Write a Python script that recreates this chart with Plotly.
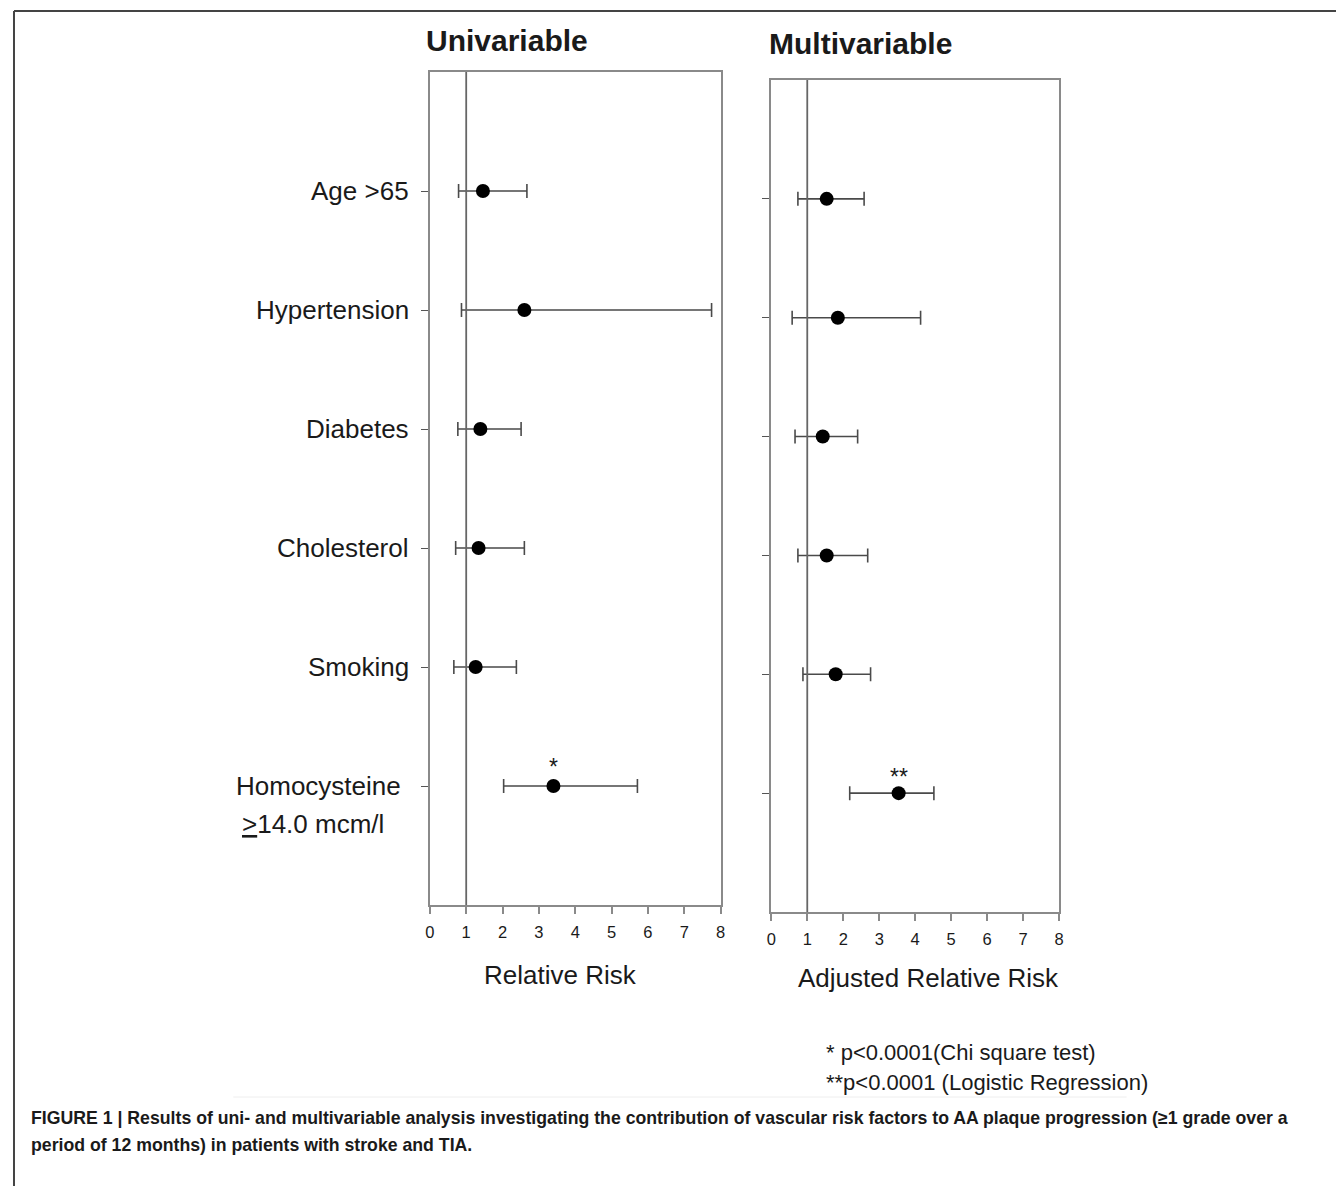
import plotly.graph_objects as go

categories = ["Age >65", "Hypertension", "Diabetes", "Cholesterol", "Smoking", "Homocysteine"]
cat_pos = [6, 5, 4, 3, 2, 1]

uni_rr = [1.46, 2.60, 1.39, 1.34, 1.26, 3.40]
uni_lo = [0.79, 0.87, 0.77, 0.71, 0.66, 2.03]
uni_hi = [2.67, 7.75, 2.51, 2.60, 2.38, 5.71]

multi_rr = [1.54, 1.85, 1.43, 1.54, 1.79, 3.54]
multi_lo = [0.74, 0.58, 0.66, 0.74, 0.88, 2.18]
multi_hi = [2.58, 4.15, 2.40, 2.68, 2.76, 4.52]

x_ticks = [0, 1, 2, 3, 4, 5, 6, 7, 8]

OFF = 8  # default page margin of the html body
W, H = 1344 - OFF, 1186 - OFF
FONT = "Liberation Sans, Arial, Helvetica, sans-serif"
TXT = "#1a1a1a"
FRAME = "#8a8a8a"


def px(x):
    return (x - OFF) / W


def py(y):
    return 1 - (y - OFF) / H


fig = go.Figure()

for rr, lo, hi, xa, ya in [(uni_rr, uni_lo, uni_hi, "x", "y"), (multi_rr, multi_lo, multi_hi, "x2", "y2")]:
    fig.add_trace(go.Scatter(
        x=rr, y=cat_pos, xaxis=xa, yaxis=ya, mode="markers",
        marker=dict(color="black", size=14),
        error_x=dict(type="data", symmetric=False,
                     array=[h - r for h, r in zip(hi, rr)],
                     arrayminus=[r - l for r, l in zip(rr, lo)],
                     color="#4a4a4a", thickness=1.6, width=7),
        showlegend=False, hoverinfo="skip", cliponaxis=False,
    ))

axis_common = dict(range=[0, 8], tickvals=x_ticks, ticks="outside", ticklen=7, tickcolor=FRAME,
                   tickwidth=1.5, showline=True, linecolor=FRAME, linewidth=2, mirror=True,
                   showgrid=False, zeroline=False, ticklabelstandoff=4,
                   tickfont=dict(family=FONT, size=16.5, color=TXT))
yaxis_common = dict(range=[0, 7], tickvals=cat_pos, ticks="outside", ticklen=7, tickcolor="#555",
                    tickwidth=1.2, showticklabels=False, showline=True, linecolor=FRAME, linewidth=2,
                    mirror=True, showgrid=False, zeroline=False)

fig.update_layout(
    width=W, height=H, margin=dict(l=0, r=0, t=0, b=0),
    paper_bgcolor="white", plot_bgcolor="white",
    xaxis=dict(domain=[px(428), px(721)], anchor="y", **axis_common),
    yaxis=dict(domain=[py(905), py(72)], anchor="x", **yaxis_common),
    xaxis2=dict(domain=[px(772), px(1062)], anchor="y2", **axis_common),
    yaxis2=dict(domain=[py(912), py(80)], anchor="x2", **yaxis_common),
)

# reference lines at RR = 1
fig.add_shape(type="line", xref="x", yref="y domain", x0=1, x1=1, y0=0, y1=1,
              line=dict(color="#666", width=1.8))
fig.add_shape(type="line", xref="x2", yref="y2 domain", x0=1, x1=1, y0=0, y1=1,
              line=dict(color="#666", width=1.8))

# page border lines
fig.add_shape(type="line", xref="paper", yref="paper", x0=px(9), x1=1, y0=py(11), y1=py(11),
              line=dict(color="#444", width=2))
fig.add_shape(type="line", xref="paper", yref="paper", x0=px(9), x1=px(9), y0=py(11), y1=0,
              line=dict(color="#444", width=2))
fig.add_shape(type="line", xref="paper", yref="paper", x0=px(230), x1=px(1130), y0=py(1097), y1=py(1097),
              line=dict(color="#eeeeee", width=1))

ann = []
# category labels
for c, p in zip(categories[:-1], cat_pos[:-1]):
    ann.append(dict(text=c, xref="paper", yref="y", x=px(409), y=p, xanchor="right", yanchor="middle",
                    showarrow=False, font=dict(family=FONT, size=26, color=TXT)))
ann.append(dict(text=categories[-1], xref="paper", yref="y", x=px(231), y=cat_pos[-1], xanchor="left",
                yanchor="middle", showarrow=False, font=dict(family=FONT, size=26, color=TXT)))
ann.append(dict(text="<u>></u>14.0 mcm/l", xref="paper", yref="y", x=px(237), y=cat_pos[-1], yshift=-38,
                xanchor="left", yanchor="middle", showarrow=False, font=dict(family=FONT, size=26, color=TXT)))

# significance stars
ann.append(dict(text="*", xref="x", yref="y", x=uni_rr[-1], y=cat_pos[-1], yshift=19, showarrow=False,
                yanchor="middle", font=dict(family=FONT, size=23, color=TXT)))
ann.append(dict(text="**", xref="x2", yref="y2", x=multi_rr[-1], y=cat_pos[-1], yshift=16, showarrow=False,
                yanchor="middle", font=dict(family=FONT, size=23, color=TXT)))

# panel titles
ann.append(dict(text="<b>Univariable</b>", xref="paper", yref="paper", x=px(506), y=py(41),
                xanchor="center", yanchor="middle", showarrow=False, font=dict(family=FONT, size=30, color=TXT)))
ann.append(dict(text="<b>Multivariable</b>", xref="paper", yref="paper", x=px(862), y=py(44),
                xanchor="center", yanchor="middle", showarrow=False, font=dict(family=FONT, size=30, color=TXT)))

# axis titles
ann.append(dict(text="Relative Risk", xref="paper", yref="paper", x=px(560), y=py(975),
                xanchor="center", yanchor="middle", showarrow=False, font=dict(family=FONT, size=26, color=TXT)))
ann.append(dict(text="Adjusted Relative Risk", xref="paper", yref="paper", x=px(930), y=py(978),
                xanchor="center", yanchor="middle", showarrow=False, font=dict(family=FONT, size=26, color=TXT)))

# footnotes
ann.append(dict(text="* p<0.0001(Chi square test)", xref="paper", yref="paper", x=px(825), y=py(1052),
                xanchor="left", yanchor="middle", showarrow=False, font=dict(family=FONT, size=22, color=TXT)))
ann.append(dict(text="**p<0.0001 (Logistic Regression)", xref="paper", yref="paper", x=px(825), y=py(1082),
                xanchor="left", yanchor="middle", showarrow=False, font=dict(family=FONT, size=22, color=TXT)))

# caption
cap1 = ("FIGURE 1 | Results of uni- and multivariable analysis investigating the contribution of vascular risk "
        "factors to AA plaque progression (≥1 grade over a")
cap2 = "period of 12 months) in patients with stroke and TIA."
CAPFONT = "Liberation Sans Narrow, Arial Narrow, " + FONT
ann.append(dict(text="<b>" + cap1 + "</b>", xref="paper", yref="paper", x=px(24), y=py(1118),
                xanchor="left", yanchor="middle", showarrow=False,
                font=dict(family=CAPFONT, size=17.7, color=TXT)))
ann.append(dict(text="<b>" + cap2 + "</b>", xref="paper", yref="paper", x=px(24), y=py(1145),
                xanchor="left", yanchor="middle", showarrow=False,
                font=dict(family=CAPFONT, size=17.7, color=TXT)))

fig.update_layout(annotations=ann)
fig.write_html("out.html")
